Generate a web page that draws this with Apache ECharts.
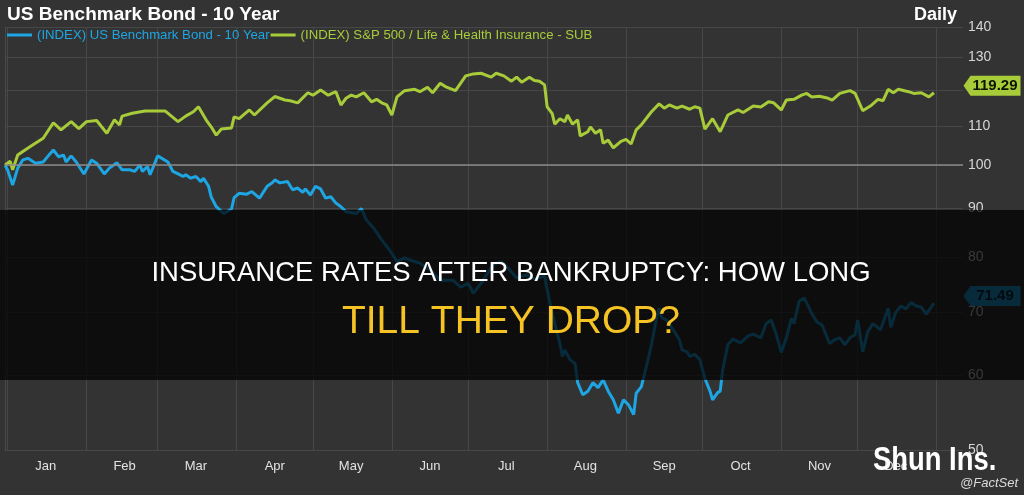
<!DOCTYPE html>
<html>
<head>
<meta charset="utf-8">
<script src="https://cdn.jsdelivr.net/npm/echarts@6/dist/echarts.min.js"></script>
<style>
  html, body { margin: 0; padding: 0; background: #333333; }
  #main { width: 1024px; height: 495px; }
</style>
</head>
<body>
<div id="main"></div>
<script>
// day 0 = 2018-12-31, both series rebased to 100 there
var startDay = Date.UTC(2018, 11, 31)
var DAY = 86400000

var months = ['Jan', 'Feb', 'Mar', 'Apr', 'May', 'Jun', 'Jul', 'Aug', 'Sep', 'Oct', 'Nov', 'Dec']
var yTicks = [50, 60, 70, 80, 90, 100, 110, 120, 130, 140]
var baseLine = 100

var bondName = '(INDEX) US Benchmark Bond - 10 Year'
var lifeName = '(INDEX) S&P 500 / Life & Health Insurance - SUB'

// US Benchmark Bond - 10 Year
var bondDays = [0, 1, 3, 5, 7, 9, 12, 15, 17, 19, 21, 23, 24, 26, 28, 31, 34, 36, 39, 41,
  44, 46, 49, 51, 53, 54, 56, 57, 60, 64, 66, 68, 70, 71, 73, 75, 77, 78, 80, 81,
  83, 86, 89, 90, 92, 95, 97, 100, 103, 105, 106, 108, 111, 113, 115, 117, 118, 120, 122, 124,
  126, 128, 130, 132, 134, 138, 140, 142, 145, 148, 151, 154, 157, 159, 163, 167, 171, 176, 179, 182,
  184, 187, 192, 195, 197, 199, 201, 203, 205, 208, 212, 214, 216, 218, 219, 220, 222, 224, 225, 227,
  229, 231, 233, 235, 237, 239, 241, 243, 245, 247, 248, 250, 252, 254, 256, 257, 258, 260, 263, 265,
  266, 268, 269, 271, 273, 275, 277, 278, 280, 281, 282, 284, 286, 289, 292, 294, 297, 299, 301, 303,
  305, 307, 309, 310, 312, 314, 315, 317, 319, 321, 324, 326, 328, 330, 332, 334, 335, 337, 339, 341,
  344, 347, 348, 350, 352, 354, 356, 358, 360, 362, 365]
var bondValues = [100, 98.9, 95.3, 99.3, 101.3, 101.7, 100.5, 100.8, 102.3, 103.8, 102.1, 102.5, 100.8, 102.3, 100.8, 97.9, 101.3, 100.5, 97.9, 99.3,
  100.6, 98.9, 98.9, 98.5, 100.1, 98.5, 99.7, 97.7, 102.3, 100.8, 98.5, 97.9, 97.3, 97.7, 96.9, 97.3, 96.1, 96.9, 95.0, 92.6,
  90.4, 88.9, 89.9, 92.4, 93.4, 93.2, 93.8, 92.3, 95.0, 95.8, 96.5, 95.8, 96.1, 94.2, 94.6, 93.6, 94.4, 93.0, 95.0, 94.4,
  92.3, 92.6, 91.2, 90.4, 89.3, 88.9, 90.0, 87.5, 85.7, 83.4, 81.4, 79.1, 79.8, 79.4, 78.8, 77.5, 75.6, 75.6, 74.3, 75.0,
  73.2, 75.0, 78.6, 79.1, 78.2, 77.1, 76.0, 76.3, 76.6, 75.8, 76.3, 71.7, 68.0, 64.8, 62.8, 63.8, 62.3, 61.7, 58.9, 57.2,
  57.7, 58.9, 58.2, 59.3, 57.7, 56.5, 54.7, 56.5, 55.8, 54.5, 57.4, 58.3, 61.3, 64.6, 69.0, 70.6, 69.0, 68.6, 66.7, 65.4,
  63.8, 63.5, 62.8, 63.1, 62.3, 59.5, 57.7, 56.5, 57.5, 57.7, 60.8, 64.6, 65.5, 64.9, 66.0, 66.3, 65.7, 68.0, 68.6, 66.3,
  63.4, 65.7, 68.9, 68.0, 71.8, 72.4, 71.5, 69.7, 68.3, 67.8, 64.8, 65.4, 65.7, 64.6, 65.7, 66.2, 68.6, 63.5, 66.7, 68.0,
  67.0, 70.6, 67.4, 69.9, 71.0, 70.5, 71.6, 71.0, 70.8, 69.6, 71.49]

// S&P 500 / Life & Health Insurance - SUB
var lifeDays = [0, 2, 3, 5, 7, 11, 15, 19, 22, 26, 29, 32, 36, 40, 43, 45, 46, 50, 55, 60,
  63, 68, 71, 74, 76, 79, 81, 83, 85, 89, 90, 92, 96, 98, 103, 106, 110, 112, 115, 119,
  121, 124, 127, 130, 132, 134, 136, 138, 141, 144, 146, 148, 150, 152, 154, 157, 161, 163, 166, 168,
  171, 173, 177, 181, 184, 187, 191, 193, 196, 199, 201, 203, 206, 208, 210, 212, 213, 215, 216, 218,
  220, 221, 223, 225, 226, 229, 230, 232, 234, 235, 237, 239, 242, 244, 246, 248, 250, 254, 257, 259,
  261, 264, 266, 269, 271, 273, 275, 278, 281, 284, 288, 290, 294, 297, 300, 302, 305, 307, 310, 313,
  315, 317, 320, 323, 325, 328, 332, 334, 337, 340, 343, 345, 347, 349, 351, 355, 357, 360, 363, 365]
var lifeValues = [100, 101.0, 98.9, 102.5, 103.4, 105.1, 106.8, 110.9, 109.0, 111.2, 109.3, 111.2, 111.5, 108.1, 111.7, 110.3, 112.7, 113.5, 114.1, 114.1,
  114.1, 111.2, 112.7, 113.9, 115.3, 111.7, 109.8, 107.6, 109.2, 109.5, 112.5, 112.0, 114.4, 113.0, 116.4, 118.2, 117.2, 117.0, 116.4, 119.3,
  118.6, 120.1, 118.6, 119.6, 115.8, 117.7, 118.6, 118.1, 119.3, 116.7, 117.4, 116.4, 115.8, 113.0, 118.1, 119.9, 120.3, 119.6, 120.9, 119.3,
  122.1, 121.1, 119.9, 124.3, 124.9, 125.1, 123.9, 125.1, 124.3, 122.7, 123.9, 122.4, 123.9, 122.9, 122.7, 121.6, 115.3, 113.4, 110.5, 112.0,
  111.2, 113.0, 110.5, 111.7, 107.4, 108.5, 109.8, 108.1, 109.0, 105.5, 106.3, 104.3, 106.0, 106.5, 105.3, 109.0, 110.3, 113.9, 116.1, 114.9,
  115.8, 114.9, 115.5, 114.6, 115.3, 114.9, 109.2, 112.0, 108.5, 113.0, 114.4, 113.7, 115.5, 115.2, 116.7, 116.4, 114.4, 117.2, 117.4, 118.6,
  119.1, 118.1, 118.3, 117.8, 117.2, 119.1, 119.9, 119.1, 114.2, 115.5, 117.4, 117.0, 120.3, 119.3, 120.3, 119.6, 119.1, 119.3, 118.1, 119.29]

var blue = '#1ea5e3'
var green = '#a8cb3a'
var font = 'Liberation Sans, Arial, sans-serif'

function toSeries(days, values) {
  return days.map(function (d, i) { return [d, values[i]] })
}

function dayOf(y, m, d) {
  return (Date.UTC(y, m, d) - startDay) / DAY
}

// x axis runs in days from startDay, a bit past year end
var xMax = 376.4
var monthStarts = []
for (var i = 0; i <= 12; i++) monthStarts.push(dayOf(2019, i, 1))
var monthMids = months.map(function (m, i) { return dayOf(2019, i, 16) })

// tag shape on the right axis
var tagPath = 'path://M0,10 L7,0 L57,0 L57,20 L7,20 Z'

function lastTag(values, color, textColor) {
  var last = values[values.length - 1]
  return {
    silent: true,
    symbol: tagPath,
    symbolSize: [57, 20],
    symbolKeepAspect: false,
    symbolOffset: [29, -7],
    itemStyle: { color: color },
    label: {
      show: true,
      position: 'inside',
      offset: [3, 0],
      color: textColor,
      fontWeight: 'bold',
      fontSize: 15,
      fontFamily: font,
      formatter: function () { return last.toFixed(2) }
    },
    data: [{ coord: [xMax, last] }]
  }
}

var myChart = echarts.init(document.getElementById('main'))

var option = {
  backgroundColor: '#333333',
  animation: false,
  grid: { left: 5, right: 61, top: 27, bottom: 45 },
  legend: {
    left: 7,
    top: 28,
    padding: 0,
    itemWidth: 25,
    itemHeight: 3,
    itemGap: 1,
    icon: 'rect',
    selectedMode: false,
    textStyle: { fontSize: 13.2, fontFamily: font, lineHeight: 14 },
    data: [
      { name: bondName, textStyle: { color: blue } },
      { name: lifeName, textStyle: { color: green } }
    ]
  },
  xAxis: {
    type: 'value',
    min: 0,
    max: xMax,
    axisLine: { show: true, lineStyle: { color: '#474747' } },
    axisTick: { show: false, customValues: monthStarts },
    splitLine: { show: true, lineStyle: { color: '#474747', width: 1 } },
    axisLabel: {
      customValues: monthMids,
      color: '#e2e2e2',
      fontSize: 13,
      fontFamily: font,
      margin: 10,
      formatter: function (v) { return months[new Date(startDay + v * DAY).getUTCMonth()] }
    }
  },
  yAxis: {
    type: 'log',
    logBase: 10,
    position: 'right',
    min: 50,
    max: 140,
    axisLine: { show: true, lineStyle: { color: '#4a4a4a' } },
    axisTick: { show: false, customValues: yTicks },
    splitLine: { show: true, lineStyle: { color: '#474747', width: 1 } },
    axisLabel: {
      customValues: yTicks,
      color: '#d6d6d6',
      fontSize: 14,
      fontFamily: font,
      margin: 5,
      formatter: function (v) { return String(Math.round(v)) }
    }
  },
  series: [
    {
      name: bondName,
      type: 'line',
      showSymbol: false,
      symbol: 'none',
      color: blue,
      lineStyle: { width: 3, color: blue },
      data: toSeries(bondDays, bondValues),
      markLine: {
        silent: true,
        symbol: ['none', 'none'],
        label: { show: false },
        lineStyle: { color: '#8a8a8a', width: 1.5, type: 'solid' },
        data: [{ yAxis: baseLine }]
      },
      markPoint: lastTag(bondValues, blue, '#06283a')
    },
    {
      name: lifeName,
      type: 'line',
      showSymbol: false,
      symbol: 'none',
      color: green,
      lineStyle: { width: 3, color: green },
      data: toSeries(lifeDays, lifeValues),
      markPoint: lastTag(lifeValues, green, '#0c1400')
    }
  ],
  graphic: [
    {
      type: 'text', x: 7, y: 15, z: 10,
      style: { text: 'US Benchmark Bond - 10 Year', fill: '#ffffff', fontSize: 19, fontWeight: 'bold', fontFamily: font, align: 'left', verticalAlign: 'middle' }
    },
    {
      type: 'text', x: 957, y: 15, z: 10,
      style: { text: 'Daily', fill: '#ffffff', fontSize: 18, fontWeight: 'bold', fontFamily: font, align: 'right', verticalAlign: 'middle' }
    },
    // dark banner over the middle of the chart
    {
      type: 'rect', z: 100,
      shape: { x: 0, y: 210, width: 1024, height: 170 },
      style: { fill: 'rgba(0,0,0,0.74)' }
    },
    {
      type: 'text', x: 511, y: 273, z: 101,
      style: { text: 'INSURANCE RATES AFTER BANKRUPTCY: HOW LONG', fill: '#ffffff', fontSize: 27.5, fontFamily: font, align: 'center', verticalAlign: 'middle' }
    },
    {
      type: 'text', x: 511, y: 322, z: 101,
      style: { text: 'TILL THEY DROP?', fill: '#f6c324', fontSize: 39, fontFamily: font, align: 'center', verticalAlign: 'middle' }
    },
    // watermark, squeezed to look like a narrow bold face
    {
      type: 'text', x: 873, y: 461, z: 101, scaleX: 0.83,
      style: { text: 'Shun Ins.', fill: '#ffffff', fontSize: 33, fontWeight: 'bold', fontFamily: font, align: 'left', verticalAlign: 'middle' }
    },
    {
      type: 'text', x: 1018, y: 483, z: 101,
      style: { text: '@FactSet', fill: '#dcdcdc', fontSize: 13, fontStyle: 'italic', fontFamily: font, align: 'right', verticalAlign: 'middle' }
    }
  ]
}

myChart.setOption(option)
</script>
</body>
</html>
